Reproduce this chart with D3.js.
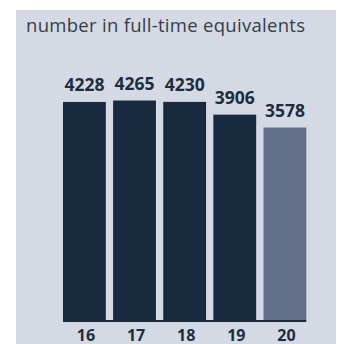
<!DOCTYPE html>
<html><head><meta charset="utf-8">
<script src="https://cdn.jsdelivr.net/npm/d3@7"></script>
<style>html,body{margin:0;padding:0;background:#fff;}svg{display:block;}</style>
</head><body>
<script>
const title = "number in full-time equivalents";
const years = ["16", "17", "18", "19", "20"];
const values = [4228, 4265, 4230, 3906, 3578];
const highlight = ["20"];

const W = 337, H = 344;
const svg = d3.select("body").append("svg").attr("width", W).attr("height", H);
svg.append("rect").attr("x", 16).attr("y", 10).attr("width", 320).attr("height", H - 10).attr("fill", "#d5d9e3");

svg.append("text").attr("x", 26).attr("y", 32).text(title)
  .attr("font-family", "Open Sans, sans-serif").attr("font-size", 18.5).attr("fill", "#343e4a")
  .attr("textLength", 279).attr("lengthAdjust", "spacing");

const x = d3.scaleBand().domain(years).range([63, 306.3]).paddingInner(0.146).paddingOuter(0);
const y = d3.scaleLinear().domain([-1310, 4265]).range([320, 100.5]);

svg.selectAll("rect.bar").data(years).join("rect").attr("class", "bar")
  .attr("x", d => x(d)).attr("width", x.bandwidth())
  .attr("y", (d, i) => y(values[i])).attr("height", (d, i) => 320 - y(values[i]))
  .attr("fill", d => highlight.includes(d) ? "#627189" : "#172a3f");

svg.append("line").attr("x1", 63).attr("x2", x("20") + x.bandwidth()).attr("y1", 321).attr("y2", 321)
  .attr("stroke", "#172a3f").attr("stroke-width", 2);

svg.selectAll("text.val").data(years).join("text").attr("class", "val")
  .attr("x", d => x(d) + x.bandwidth() / 2).attr("y", (d, i) => y(values[i]) - 10.5)
  .attr("text-anchor", "middle").text((d, i) => values[i])
  .attr("font-family", "Open Sans, sans-serif").attr("font-weight", 700).attr("font-size", 17.5).attr("fill", "#1c2d42");

const xAxis = d3.axisBottom(x).tickSize(0).tickPadding(0);
const g = svg.append("g").attr("transform", "translate(1.5,340.5)").call(xAxis);
g.select(".domain").remove();
g.selectAll("text").attr("dy", 0).attr("y", 0)
  .attr("font-family", "Open Sans, sans-serif").attr("font-weight", 700).attr("font-size", 16).attr("fill", "#1c2d42");
</script>
</body></html>
